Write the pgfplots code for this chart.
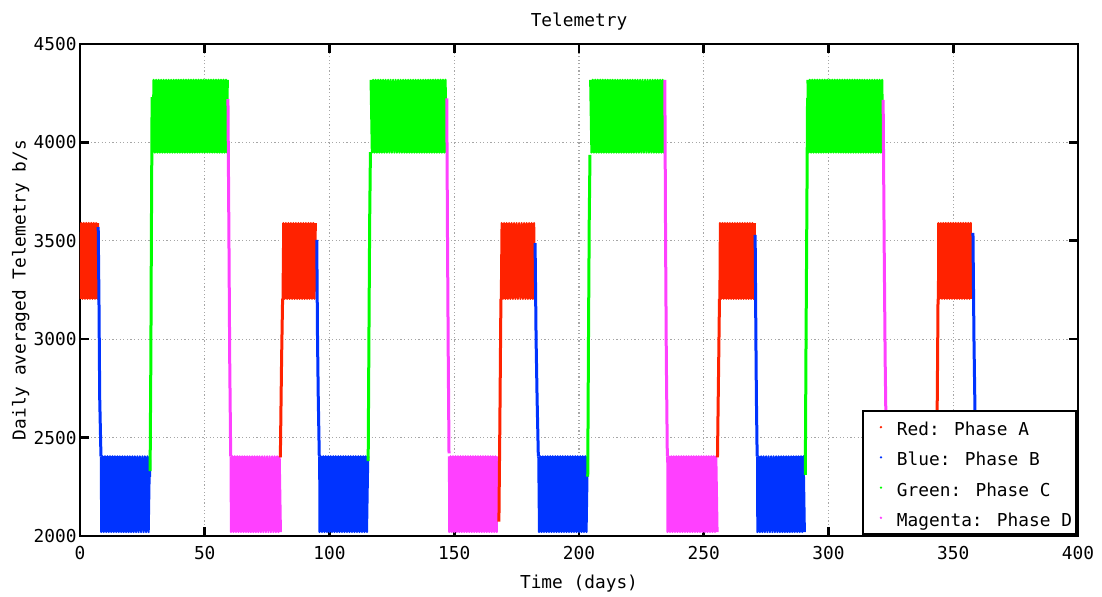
\documentclass[border=0pt]{standalone}
\usepackage{fontspec}
\setmainfont{DejaVu Sans Mono}
\usepackage{pgfplots}
\pgfplotsset{compat=1.18}
\definecolor{cRed}{RGB}{255,34,0}
\definecolor{cBlue}{RGB}{0,51,255}
\definecolor{cGreen}{RGB}{0,255,0}
\definecolor{cMag}{RGB}{255,64,255}
\begin{document}
\fontsize{8.9}{10.7}\selectfont
\begin{tikzpicture}
\useasboundingbox (-40pt,-30.5pt) rectangle (511pt,268pt);
\begin{axis}[
  scale only axis, width=499pt, height=246pt,
  xmin=0, xmax=400, ymin=2000, ymax=4500,
  xtick={0,50,...,400}, ytick={2000,2500,...,4500},
  tick align=inside, major tick length=4.5pt,
  axis line style={line width=1.3pt},
  tick style={line width=1.3pt, black},
  grid=major,
  grid style={gray!70, line width=0.6pt, dash pattern=on 0.6pt off 1.2pt},
  title={Telemetry}, xlabel={Time (days)}, ylabel={Daily averaged Telemetry b/s},
  title style={yshift=-2.5pt},
  xticklabel shift=2pt, xlabel shift=1.5pt, ylabel shift=-2.5pt,
  /pgf/number format/assume math mode=true,
  /pgf/number format/1000 sep={},
  yticklabel style={inner xsep=1.5pt},
  unbounded coords=jump,
  every axis plot/.append style={line width=1.1pt, mark=none, line join=round},
  legend style={at={(1,0)}, anchor=south east, xshift=-0.5pt, yshift=0.3pt,
    draw=black, line width=1pt, fill=white, row sep=2.5pt, inner xsep=1pt,
    nodes={inner xsep=1pt, text height=8.6pt, text depth=0pt}},
  legend cell align=left,
  legend image code/.code={\path[draw=none,fill=none] (0pt,-1pt) rectangle (15pt,1pt); \fill[#1,draw=none] (8pt,0pt) circle (0.65pt);},
]
% ---- Phase A blocks (red)
\addplot[cRed, forget plot] coordinates {
(0,3205)(0.5,3590)(1,3205)(1.5,3590)(2,3205)(2.5,3590)(3,3205)(3.5,3590)(4,3205)(4.5,3590)(5,3205)(5.5,3590)(6,3205)(6.5,3590)(7,3205)(7.2,3590)
(7.3,nan)
(81.2,3205)(81.5,3590)(82,3205)(82.5,3590)(83,3205)(83.5,3590)(84,3205)(84.5,3590)(85,3205)(85.5,3590)(86,3205)(86.5,3590)(87,3205)(87.5,3590)(88,3205)(88.5,3590)(89,3205)(89.5,3590)(90,3205)(90.5,3590)(91,3205)(91.5,3590)(92,3205)(92.5,3590)(93,3205)(93.5,3590)(94,3205)(94.5,3590)
(95,nan)
(168.7,3205)(169,3590)(169.5,3205)(170,3590)(170.5,3205)(171,3590)(171.5,3205)(172,3590)(172.5,3205)(173,3590)(173.5,3205)(174,3590)(174.5,3205)(175,3590)(175.5,3205)(176,3590)(176.5,3205)(177,3590)(177.5,3205)(178,3590)(178.5,3205)(179,3590)(179.5,3205)(180,3590)(180.5,3205)(181,3590)(181.5,3205)(182,3590)(182.4,3205)
(183,nan)
(256.3,3205)(256.5,3590)(257,3205)(257.5,3590)(258,3205)(258.5,3590)(259,3205)(259.5,3590)(260,3205)(260.5,3590)(261,3205)(261.5,3590)(262,3205)(262.5,3590)(263,3205)(263.5,3590)(264,3205)(264.5,3590)(265,3205)(265.5,3590)(266,3205)(266.5,3590)(267,3205)(267.5,3590)(268,3205)(268.5,3590)(269,3205)(269.5,3590)(270,3205)(270.5,3590)
(271,nan)
(343.9,3205)(344,3590)(344.5,3205)(345,3590)(345.5,3205)(346,3590)(346.5,3205)(347,3590)(347.5,3205)(348,3590)(348.5,3205)(349,3590)(349.5,3205)(350,3590)(350.5,3205)(351,3590)(351.5,3205)(352,3590)(352.5,3205)(353,3590)(353.5,3205)(354,3590)(354.5,3205)(355,3590)(355.5,3205)(356,3590)(356.5,3205)(357,3590)(357.4,3205)
};
% ---- Phase B blocks (blue)
\addplot[cBlue, forget plot] coordinates {
(8.4,2405)(8.5,2020)(9,2405)(9.5,2020)(10,2405)(10.5,2020)(11,2405)(11.5,2020)(12,2405)(12.5,2020)(13,2405)(13.5,2020)(14,2405)(14.5,2020)(15,2405)(15.5,2020)(16,2405)(16.5,2020)(17,2405)(17.5,2020)(18,2405)(18.5,2020)(19,2405)(19.5,2020)(20,2405)(20.5,2020)(21,2405)(21.5,2020)(22,2405)(22.5,2020)(23,2405)(23.5,2020)(24,2405)(24.5,2020)(25,2405)(25.5,2020)(26,2405)(26.5,2020)(27,2405)(27.5,2020)(28,2405)(28.1,2300)
(29,nan)
(95.9,2405)(96,2020)(96.5,2405)(97,2020)(97.5,2405)(98,2020)(98.5,2405)(99,2020)(99.5,2405)(100,2020)(100.5,2405)(101,2020)(101.5,2405)(102,2020)(102.5,2405)(103,2020)(103.5,2405)(104,2020)(104.5,2405)(105,2020)(105.5,2405)(106,2020)(106.5,2405)(107,2020)(107.5,2405)(108,2020)(108.5,2405)(109,2020)(109.5,2405)(110,2020)(110.5,2405)(111,2020)(111.5,2405)(112,2020)(112.5,2405)(113,2020)(113.5,2405)(114,2020)(114.5,2405)(115,2020)(115.5,2405)
(116,nan)
(183.7,2405)(184,2020)(184.5,2405)(185,2020)(185.5,2405)(186,2020)(186.5,2405)(187,2020)(187.5,2405)(188,2020)(188.5,2405)(189,2020)(189.5,2405)(190,2020)(190.5,2405)(191,2020)(191.5,2405)(192,2020)(192.5,2405)(193,2020)(193.5,2405)(194,2020)(194.5,2405)(195,2020)(195.5,2405)(196,2020)(196.5,2405)(197,2020)(197.5,2405)(198,2020)(198.5,2405)(199,2020)(199.5,2405)(200,2020)(200.5,2405)(201,2020)(201.5,2405)(202,2020)(202.5,2405)(203,2020)(203.5,2405)
(204,nan)
(271.4,2405)(271.5,2020)(272,2405)(272.5,2020)(273,2405)(273.5,2020)(274,2405)(274.5,2020)(275,2405)(275.5,2020)(276,2405)(276.5,2020)(277,2405)(277.5,2020)(278,2405)(278.5,2020)(279,2405)(279.5,2020)(280,2405)(280.5,2020)(281,2405)(281.5,2020)(282,2405)(282.5,2020)(283,2405)(283.5,2020)(284,2405)(284.5,2020)(285,2405)(285.5,2020)(286,2405)(286.5,2020)(287,2405)(287.5,2020)(288,2405)(288.5,2020)(289,2405)(289.5,2020)(290,2405)(290.5,2020)
(291,nan)
(359,2405)(359.5,2020)(360,2405)(360.5,2020)(361,2405)(361.5,2020)(362,2405)(362.5,2020)(363,2405)(363.5,2020)(364,2405)(364.5,2020)(365,2405)
};
% ---- Phase C blocks (green)
\addplot[cGreen, forget plot] coordinates {
(29,3948)(29.5,4318)(30,3948)(30.5,4318)(31,3948)(31.5,4318)(32,3948)(32.5,4318)(33,3948)(33.5,4318)(34,3948)(34.5,4318)(35,3948)(35.5,4318)(36,3948)(36.5,4318)(37,3948)(37.5,4318)(38,3948)(38.5,4318)(39,3948)(39.5,4318)(40,3948)(40.5,4318)(41,3948)(41.5,4318)(42,3948)(42.5,4318)(43,3948)(43.5,4318)(44,3948)(44.5,4318)(45,3948)(45.5,4318)(46,3948)(46.5,4318)(47,3948)(47.5,4318)(48,3948)(48.5,4318)(49,3948)(49.5,4318)(50,3948)(50.5,4318)(51,3948)(51.5,4318)(52,3948)(52.5,4318)(53,3948)(53.5,4318)(54,3948)(54.5,4318)(55,3948)(55.5,4318)(56,3948)(56.5,4318)(57,3948)(57.5,4318)(58,3948)(58.5,4318)(59,3948)(59.2,4318)
(60,nan)
(116.5,4318)(117,3948)(117.5,4318)(118,3948)(118.5,4318)(119,3948)(119.5,4318)(120,3948)(120.5,4318)(121,3948)(121.5,4318)(122,3948)(122.5,4318)(123,3948)(123.5,4318)(124,3948)(124.5,4318)(125,3948)(125.5,4318)(126,3948)(126.5,4318)(127,3948)(127.5,4318)(128,3948)(128.5,4318)(129,3948)(129.5,4318)(130,3948)(130.5,4318)(131,3948)(131.5,4318)(132,3948)(132.5,4318)(133,3948)(133.5,4318)(134,3948)(134.5,4318)(135,3948)(135.5,4318)(136,3948)(136.5,4318)(137,3948)(137.5,4318)(138,3948)(138.5,4318)(139,3948)(139.5,4318)(140,3948)(140.5,4318)(141,3948)(141.5,4318)(142,3948)(142.5,4318)(143,3948)(143.5,4318)(144,3948)(144.5,4318)(145,3948)(145.5,4318)(146,3948)(146.5,4318)(147,3948)
(148,nan)
(204.5,4318)(205,3948)(205.5,4318)(206,3948)(206.5,4318)(207,3948)(207.5,4318)(208,3948)(208.5,4318)(209,3948)(209.5,4318)(210,3948)(210.5,4318)(211,3948)(211.5,4318)(212,3948)(212.5,4318)(213,3948)(213.5,4318)(214,3948)(214.5,4318)(215,3948)(215.5,4318)(216,3948)(216.5,4318)(217,3948)(217.5,4318)(218,3948)(218.5,4318)(219,3948)(219.5,4318)(220,3948)(220.5,4318)(221,3948)(221.5,4318)(222,3948)(222.5,4318)(223,3948)(223.5,4318)(224,3948)(224.5,4318)(225,3948)(225.5,4318)(226,3948)(226.5,4318)(227,3948)(227.5,4318)(228,3948)(228.5,4318)(229,3948)(229.5,4318)(230,3948)(230.5,4318)(231,3948)(231.5,4318)(232,3948)(232.5,4318)(233,3948)(233.5,4318)(234,3948)(234.2,4318)
(235,nan)
(291.6,4318)(292,3948)(292.5,4318)(293,3948)(293.5,4318)(294,3948)(294.5,4318)(295,3948)(295.5,4318)(296,3948)(296.5,4318)(297,3948)(297.5,4318)(298,3948)(298.5,4318)(299,3948)(299.5,4318)(300,3948)(300.5,4318)(301,3948)(301.5,4318)(302,3948)(302.5,4318)(303,3948)(303.5,4318)(304,3948)(304.5,4318)(305,3948)(305.5,4318)(306,3948)(306.5,4318)(307,3948)(307.5,4318)(308,3948)(308.5,4318)(309,3948)(309.5,4318)(310,3948)(310.5,4318)(311,3948)(311.5,4318)(312,3948)(312.5,4318)(313,3948)(313.5,4318)(314,3948)(314.5,4318)(315,3948)(315.5,4318)(316,3948)(316.5,4318)(317,3948)(317.5,4318)(318,3948)(318.5,4318)(319,3948)(319.5,4318)(320,3948)(320.5,4318)(321,3948)(321.5,4318)(322,3948)
};
% ---- Phase D blocks (magenta)
\addplot[cMag, forget plot] coordinates {
(60.4,2405)(60.5,2020)(61,2405)(61.5,2020)(62,2405)(62.5,2020)(63,2405)(63.5,2020)(64,2405)(64.5,2020)(65,2405)(65.5,2020)(66,2405)(66.5,2020)(67,2405)(67.5,2020)(68,2405)(68.5,2020)(69,2405)(69.5,2020)(70,2405)(70.5,2020)(71,2405)(71.5,2020)(72,2405)(72.5,2020)(73,2405)(73.5,2020)(74,2405)(74.5,2020)(75,2405)(75.5,2020)(76,2405)(76.5,2020)(77,2405)(77.5,2020)(78,2405)(78.5,2020)(79,2405)(79.5,2020)(80,2405)(80.5,2020)
(81,nan)
(147.9,2405)(148,2020)(148.5,2405)(149,2020)(149.5,2405)(150,2020)(150.5,2405)(151,2020)(151.5,2405)(152,2020)(152.5,2405)(153,2020)(153.5,2405)(154,2020)(154.5,2405)(155,2020)(155.5,2405)(156,2020)(156.5,2405)(157,2020)(157.5,2405)(158,2020)(158.5,2405)(159,2020)(159.5,2405)(160,2020)(160.5,2405)(161,2020)(161.5,2405)(162,2020)(162.5,2405)(163,2020)(163.5,2405)(164,2020)(164.5,2405)(165,2020)(165.5,2405)(166,2020)(166.5,2405)(167,2020)(167.5,2405)
(168,nan)
(235.4,2405)(235.5,2020)(236,2405)(236.5,2020)(237,2405)(237.5,2020)(238,2405)(238.5,2020)(239,2405)(239.5,2020)(240,2405)(240.5,2020)(241,2405)(241.5,2020)(242,2405)(242.5,2020)(243,2405)(243.5,2020)(244,2405)(244.5,2020)(245,2405)(245.5,2020)(246,2405)(246.5,2020)(247,2405)(247.5,2020)(248,2405)(248.5,2020)(249,2405)(249.5,2020)(250,2405)(250.5,2020)(251,2405)(251.5,2020)(252,2405)(252.5,2020)(253,2405)(253.5,2020)(254,2405)(254.5,2020)(255,2405)(255.5,2020)
(256,nan)
(323.2,2405)(323.5,2020)(324,2405)(324.5,2020)(325,2405)(325.5,2020)(326,2405)(326.5,2020)(327,2405)(327.5,2020)(328,2405)(328.5,2020)(329,2405)(329.5,2020)(330,2405)(330.5,2020)(331,2405)(331.5,2020)(332,2405)(332.5,2020)(333,2405)(333.5,2020)(334,2405)(334.5,2020)(335,2405)(335.5,2020)(336,2405)(336.5,2020)(337,2405)(337.5,2020)(338,2405)(338.5,2020)(339,2405)(339.5,2020)(340,2405)(340.5,2020)(341,2405)(341.5,2020)(342,2405)(342.5,2020)(343,2405)
};
% ---- transitions (each drawn over the preceding phase)
\addplot[cRed, forget plot, line width=1.5pt] coordinates {
(80.3,2400)(80.8,2900)(81.2,3205) (81.3,nan)
(167.9,2073)(168.3,2600)(168.7,3205) (168.8,nan)
(255.5,2400)(256.0,2900)(256.3,3205) (256.4,nan)
(343.2,2400)(343.6,2700)(343.9,3205)
};
\addplot[cBlue, forget plot, line width=1.5pt] coordinates {
(7.3,3570)(7.6,3200)(7.9,2700)(8.4,2405) (8.5,nan)
(94.9,3505)(95.2,3000)(95.5,2700)(95.9,2405) (96,nan)
(182.4,3488)(182.8,3000)(183.2,2700)(183.7,2405) (183.8,nan)
(270.6,3530)(270.9,3000)(271.1,2700)(271.4,2405) (271.5,nan)
(357.9,3540)(358.3,3000)(358.7,2640)(359,2405)
};
\addplot[cGreen, forget plot, line width=1.5pt] coordinates {
(28.1,2330)(28.4,2900)(28.6,3500)(28.9,4230) (29,nan)
(115.5,2380)(115.8,3000)(116.1,3600)(116.4,3950) (116.5,nan)
(203.5,2302)(203.8,3000)(204.1,3600)(204.4,3936) (204.5,nan)
(290.7,2310)(291.0,3000)(291.3,3600)(291.6,4226)
};
\addplot[cMag, forget plot, line width=1.5pt] coordinates {
(59.3,4220)(59.7,3500)(60.0,2900)(60.4,2405) (60.5,nan)
(147.0,4224)(147.3,3500)(147.6,2900)(147.9,2420) (148,nan)
(234.4,4317)(234.7,3500)(235.0,2900)(235.4,2405) (235.5,nan)
(321.9,4216)(322.3,3500)(322.7,2900)(323.2,2405)
};
\addlegendimage{cRed}
\addlegendentry{Red: Phase A}
\addlegendimage{cBlue}
\addlegendentry{Blue: Phase B}
\addlegendimage{cGreen}
\addlegendentry{Green: Phase C}
\addlegendimage{cMag}
\addlegendentry{Magenta: Phase D}
\end{axis}
\end{tikzpicture}
\end{document}
